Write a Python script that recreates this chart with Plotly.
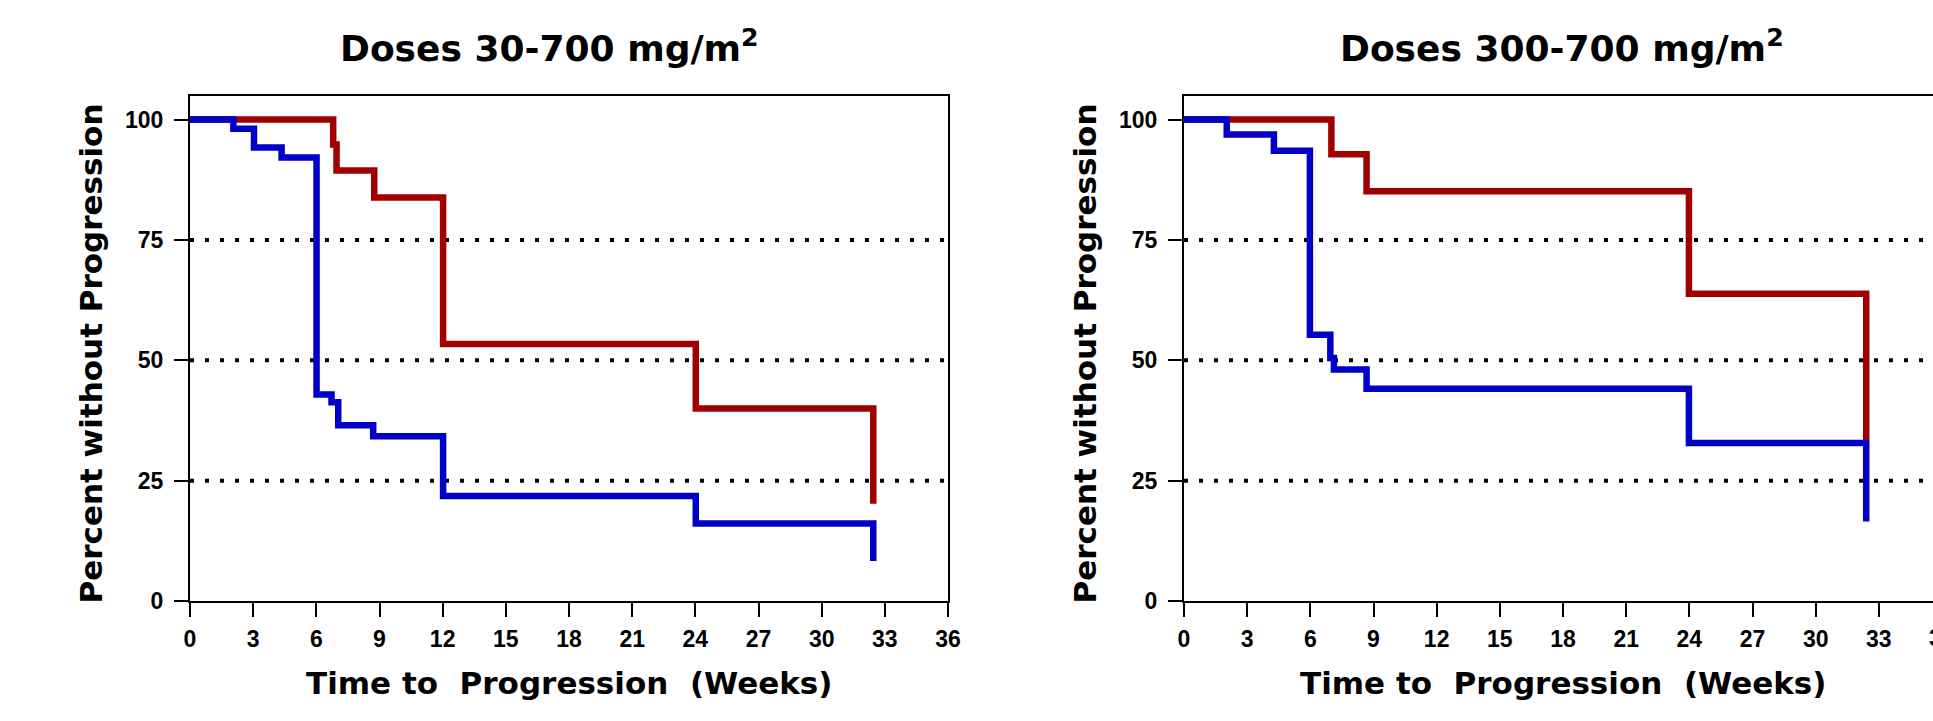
import plotly.graph_objects as go

# ---------------- data ----------------
week_ticks = [0, 3, 6, 9, 12, 15, 18, 21, 24, 27, 30, 33, 36]
pct_ticks = [0, 25, 50, 75, 100]
ref_levels = [25, 50, 75]

panel_titles = ["Doses 30-700 mg/m<sup>2</sup>", "Doses 300-700 mg/m<sup>2</sup>"]
x_title = "Time to  Progression  (Weeks)"
y_title = "Percent without Progression"

# Panel 1: doses 30-700 mg/m2
p1_red_weeks = [0, 6.80, 6.96, 8.75, 12.02, 24.02, 32.45]
p1_red_pct = [100, 94.8, 89.4, 83.8, 53.4, 40.0, 20.2]
p1_blue_weeks = [0, 2.06, 3.04, 4.35, 6.01, 6.72, 7.04, 8.70, 12.02, 24.02, 32.45]
p1_blue_pct = [100, 98.1, 94.2, 92.1, 42.9, 41.3, 36.5, 34.2, 21.8, 16.1, 8.3]

# Panel 2: doses 300-700 mg/m2
p2_red_weeks = [0, 7.00, 8.67, 23.98, 32.40]
p2_red_pct = [100, 92.8, 85.1, 63.8, 33.3]
p2_blue_weeks = [0, 2.03, 4.27, 5.98, 6.95, 7.12, 8.67, 23.98, 32.40]
p2_blue_pct = [100, 96.9, 93.5, 55.3, 50.5, 48.1, 44.1, 32.8, 16.5]

# ---------------- style / geometry ----------------
W, H = 1933, 721
RED = "#A00000"
BLUE = "#0000C8"
PPW = 21.056                 # pixels per week
X1_LEFT = 190
X2_LEFT = 1184
Y_BOTTOM_PX = 601
Y_TOP_PX = 95.5
Y_MAX = 105

x1_dom = [X1_LEFT / W, (X1_LEFT + 36 * PPW) / W]
x2_dom = [X2_LEFT / W, 1.0]
x2_max = (W - X2_LEFT) / PPW
y_dom = [(H - Y_BOTTOM_PX) / H, (H - Y_TOP_PX) / H]

tick_font = dict(family="Liberation Sans, Arial", size=23, color="black", weight="bold")
title_font = dict(family="DejaVu Sans", size=36, color="black", weight="bold")
axis_title_font = dict(family="DejaVu Sans", size=31, color="black", weight="bold")

fig = go.Figure()

def step(x, y, color, xa, ya):
    fig.add_trace(go.Scatter(x=x, y=y, mode="lines", xaxis=xa, yaxis=ya,
                             line=dict(shape="hv", color=color, width=6.5),
                             showlegend=False, hoverinfo="x+y"))

step(p1_red_weeks, p1_red_pct, RED, "x", "y")
step(p1_blue_weeks, p1_blue_pct, BLUE, "x", "y")
step(p2_red_weeks, p2_red_pct, RED, "x2", "y2")
step(p2_blue_weeks, p2_blue_pct, BLUE, "x2", "y2")

common_x = dict(tickmode="array", tickvals=week_ticks, ticktext=[str(t) for t in week_ticks],
                ticks="outside", ticklen=14, tickwidth=2, tickcolor="black",
                showline=True, linewidth=2, linecolor="black",
                showgrid=False, zeroline=False, tickfont=tick_font, ticklabelstandoff=2)
common_y = dict(range=[0, Y_MAX], tickmode="array", tickvals=pct_ticks,
                ticks="outside", ticklen=14, tickwidth=2, tickcolor="black",
                showline=True, linewidth=2, linecolor="black",
                showgrid=False, zeroline=False, tickfont=tick_font, ticklabelstandoff=6,
                domain=y_dom)

fig.update_layout(
    width=W, height=H, margin=dict(l=0, r=0, t=0, b=0, autoexpand=False),
    paper_bgcolor="white", plot_bgcolor="white",
    xaxis=dict(domain=x1_dom, range=[0, 36], mirror=True, anchor="y", **common_x),
    yaxis=dict(anchor="x", mirror=True, **common_y),
    xaxis2=dict(domain=x2_dom, range=[0, x2_max], mirror=True, anchor="y2", **common_x),
    yaxis2=dict(anchor="x2", mirror=False, **common_y),
)

# dotted reference lines
for xa, ya in (("x", "y"), ("x2", "y2")):
    for lev in ref_levels:
        fig.add_shape(type="line", xref=f"{xa} domain", yref=ya, x0=0, x1=1, y0=lev, y1=lev,
                      line=dict(color="black", width=4, dash="4px,11px"), layer="below")

annotations = []
# panel titles
title_centers = [549, 1562]
for txt, cx in zip(panel_titles, title_centers):
    annotations.append(dict(text=txt, x=cx / W, y=(H - 46) / H, xref="paper", yref="paper",
                            xanchor="center", yanchor="middle", showarrow=False, font=title_font))
# axis titles
for left, dom in ((X1_LEFT, x1_dom), (X2_LEFT, x2_dom)):
    annotations.append(dict(text=y_title, x=(left - 100) / W, y=(H - 353.5) / H,
                            xref="paper", yref="paper", xanchor="center", yanchor="middle",
                            textangle=-90, showarrow=False, font=axis_title_font))
    cx = (left + 18 * PPW) / W
    annotations.append(dict(text=x_title, x=cx, y=(H - 683) / H, xref="paper", yref="paper",
                            xanchor="center", yanchor="middle", showarrow=False,
                            font=axis_title_font))
# tick labels of panel 2 that fall past the right edge of the page (partly visible)
for t in week_ticks:
    if t > x2_max:
        xp = x2_dom[0] + t / x2_max * (x2_dom[1] - x2_dom[0])
        annotations.append(dict(text=str(t), x=xp, y=(H - 638) / H, xref="paper", yref="paper",
                                xanchor="center", yanchor="middle", showarrow=False,
                                font=tick_font))
fig.update_layout(annotations=annotations)

fig.write_html("out.html", config={"displayModeBar": False},
               post_script="document.body.style.margin='0';document.body.style.overflow='hidden';")
